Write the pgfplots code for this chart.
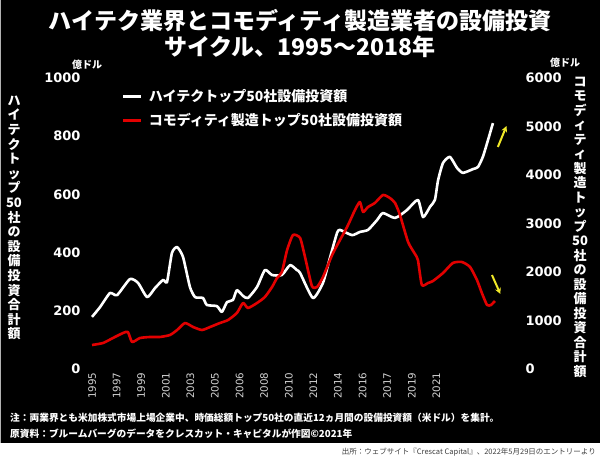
\documentclass[border=0pt]{standalone}
\usepackage{fontspec}
\setmainfont{Noto Sans CJK JP}
\newfontfamily\numfont{DejaVu Sans}
\usepackage{pgfplots}
\pgfplotsset{compat=1.18}
\usetikzlibrary{arrows.meta}
\definecolor{myred}{RGB}{226,0,0}
\definecolor{myyellow}{RGB}{240,232,40}
\definecolor{ticklab}{RGB}{210,210,210}

\pgfplotstableread{
u v
0 179
0.33 213
0.73 261
1.02 254
1.54 309
1.87 296
2.24 247
2.56 278
2.89 306
3.05 299
3.25 399
3.46 419
3.70 385
3.98 282
4.19 247
4.51 244
4.67 220
5.08 216
5.28 196
5.49 230
5.73 237
5.89 271
6.14 251
6.34 244
6.71 282
7.03 340
7.32 323
7.72 323
8.05 357
8.33 340
8.46 330
8.98 244
9.39 296
9.67 381
9.96 467
10.08 478
10.57 460
10.89 471
11.22 478
11.59 512
11.83 536
12.32 519
12.80 546
13.25 581
13.46 522
13.74 557
13.94 581
14.07 649
14.27 708
14.55 729
14.84 691
15.08 674
15.49 687
15.69 694
15.89 729
16.10 787
16.30 845
}\hitech

\pgfplotstableread{
u v
0 495
0.45 536
0.85 639
1.26 742
1.46 763
1.63 557
1.95 639
2.36 660
2.76 660
3.17 701
3.46 804
3.78 948
4.11 866
4.47 804
4.80 866
5.20 948
5.53 1010
5.89 1155
6.14 1361
6.34 1258
6.71 1361
7.03 1485
7.32 1691
7.52 1876
7.72 2000
7.93 2450
8.17 2763
8.46 2701
8.66 2309
8.94 1711
9.15 1691
9.39 1897
9.80 2392
10.37 2928
10.69 3278
10.89 3443
11.02 3237
11.22 3340
11.50 3423
11.83 3588
12.11 3526
12.32 3423
12.52 3175
12.85 2619
13.13 2371
13.25 2247
13.41 1732
13.66 1773
13.86 1814
14.27 1979
14.67 2186
15.04 2206
15.37 2103
15.65 1835
15.85 1567
16.06 1320
16.22 1320
16.38 1402
}\commodity

\begin{document}
\begin{tikzpicture}
\useasboundingbox (0pt,0pt) rectangle (600pt,462pt);
\fill[white] (0pt,0pt) rectangle (600pt,462pt);
\fill[black] (0pt,19pt) rectangle (600pt,462pt);
\draw[gray!60, line width=1.2pt] (0.6pt,19pt) -- (0.6pt,462pt);

% title
\node[text=white, font=\bfseries\fontsize{23}{26}\selectfont, align=center, inner sep=0] at (300pt,428pt)
  {ハイテク業界とコモディティ製造業者の設備投資\\サイクル、1995～2018年};

% unit labels
\node[text=white, font=\bfseries\fontsize{10}{11}\selectfont, inner sep=0] at (87pt,397pt) {億ドル};
\node[text=white, font=\bfseries\fontsize{10}{11}\selectfont, inner sep=0, anchor=west] at (550pt,399pt) {億ドル};

% vertical axis titles
\node[text=white, font=\bfseries\fontsize{13}{14.6}\selectfont, align=center, inner sep=0] at (14pt,244pt)
  {ハ\\イ\\テ\\ク\\ト\\ッ\\プ\\50\\社\\の\\設\\備\\投\\資\\合\\計\\額};
\node[text=white, font=\bfseries\fontsize{13}{14.5}\selectfont, align=center, inner sep=0] at (580pt,235pt)
  {コ\\モ\\デ\\ィ\\テ\\ィ\\製\\造\\ト\\ッ\\プ\\50\\社\\の\\設\\備\\投\\資\\合\\計\\額};

\begin{axis}[
  at={(85pt,93pt)}, anchor=south west,
  scale only axis, width=435pt, height=291pt,
  xmin=-0.285, xmax=17.4, ymin=0, ymax=1000,
  axis line style={draw=none},
  tick style={draw=none}, major tick length=0pt,
  xtick={0,...,14},
  xticklabels={1995,1997,1999,2001,2003,2005,2006,2008,2010,2012,2014,2016,2017,2019,2021},
  xticklabel style={rotate=90, anchor=east, text=ticklab, font=\numfont\fontsize{10.3}{11}\selectfont},
  ytick={0,200,...,1000},
  yticklabel style={text=white, font=\numfont\bfseries\fontsize{13}{13}\selectfont, /pgf/number format/1000 sep={}, xshift=-1pt},
  /pgf/number format/assume math mode=true,
  legend style={at={(0.078,0.975)}, anchor=north west, draw=none, fill=none,
    text=white, font=\bfseries\fontsize{14}{15}\selectfont, row sep=6.5pt, column sep=5pt},
  legend cell align=left,
]
\addplot[white, line width=2.6pt, line join=round, smooth, tension=0.35] table[x=u,y=v] {\hitech};
\addlegendentry{ハイテクトップ50社設備投資額}
\addlegendimage{myred, line width=2.6pt}
\addlegendentry{コモディティ製造トップ50社設備投資額}
\draw[myyellow, line width=2pt, -{Stealth[length=6pt,width=6pt]}] (axis cs:16.50,763) -- (axis cs:16.85,835);
\draw[myyellow, line width=2pt, -{Stealth[length=6pt,width=6pt]}] (axis cs:16.26,323) -- (axis cs:16.60,258);
\end{axis}

\begin{axis}[
  at={(85pt,93pt)}, anchor=south west,
  scale only axis, width=435pt, height=291pt,
  xmin=-0.285, xmax=17.4, ymin=0, ymax=6000,
  axis x line=none, axis y line*=right,
  axis line style={draw=none},
  tick style={draw=none}, major tick length=0pt,
  ytick={0,1000,...,6000},
  yticklabel style={text=white, font=\numfont\bfseries\fontsize{13}{13}\selectfont, /pgf/number format/1000 sep={}, xshift=2pt},
  /pgf/number format/assume math mode=true,
]
\addplot[myred, line width=2.6pt, line join=round, smooth, tension=0.35] table[x=u,y=v] {\commodity};
\end{axis}

% notes
\node[text=white, font=\bfseries\fontsize{9.7}{11}\selectfont, anchor=west, inner sep=0] at (10pt,44pt)
  {注：両業界とも米加株式市場上場企業中、時価総額トップ50社の直近12ヵ月間の設備投資額（米ドル）を集計。};
\node[text=white, font=\bfseries\fontsize{9.7}{11}\selectfont, anchor=west, inner sep=0] at (10pt,28pt)
  {原資料：ブルームバーグのデータをクレスカット・キャピタルが作図©2021年};
\node[text=black!75, font=\fontsize{7.5}{9}\selectfont, anchor=east, inner sep=0] at (596pt,10pt)
  {出所：ウェブサイト『Crescat Capital』、2022年5月29日のエントリーより};
\end{tikzpicture}
\end{document}
